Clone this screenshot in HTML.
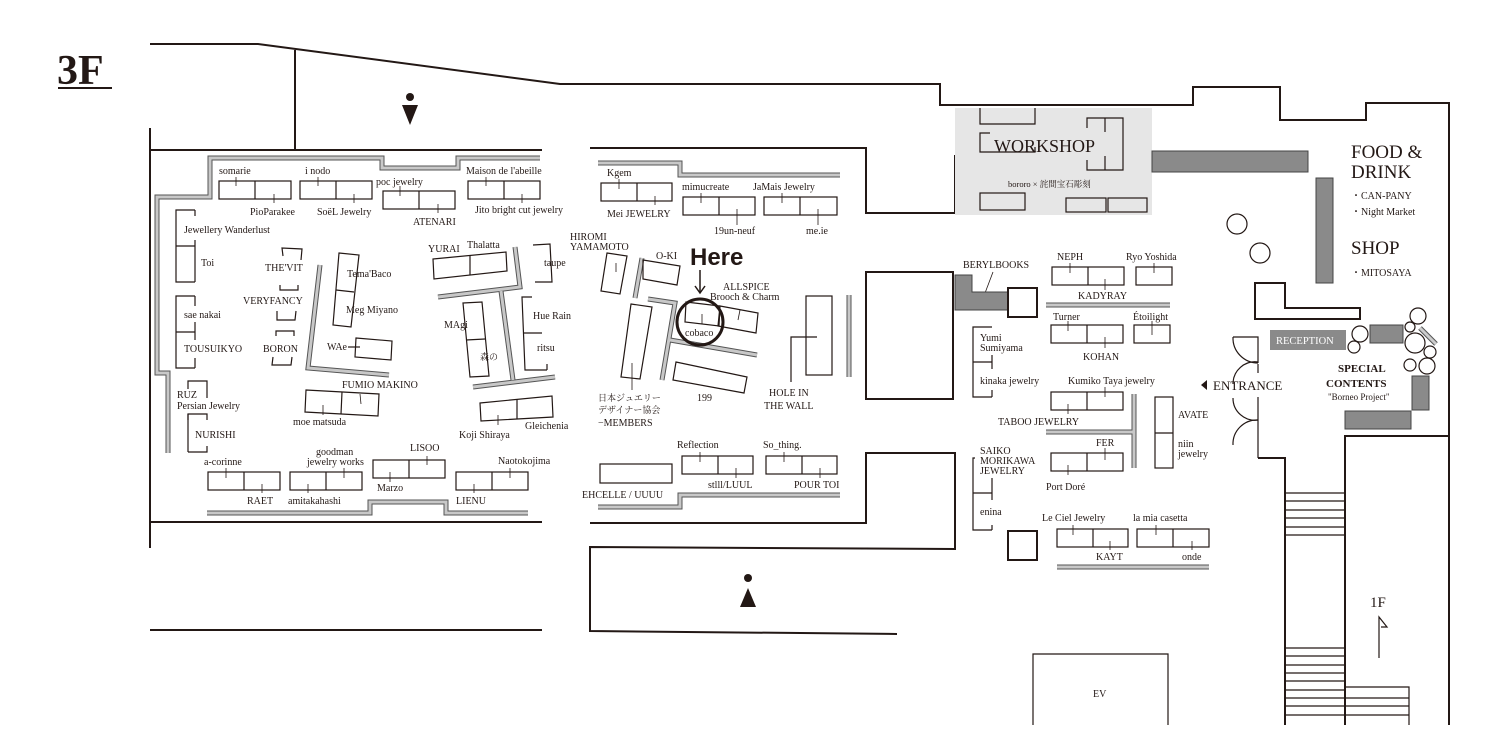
<!DOCTYPE html>
<html><head><meta charset="utf-8"><style>
html,body{margin:0;padding:0;background:#fff;}
svg{display:block;}
text{font-family:"Liberation Serif","Noto Serif CJK SC",serif;fill:#231815;font-size:10px;}
.s{fill:none;stroke:#231815;stroke-width:1.2;}
.w{fill:none;stroke:#231815;stroke-width:2;}
.t{stroke:#231815;stroke-width:0.8;}
.g1{fill:none;stroke:#555;stroke-width:5;}
.g2{fill:none;stroke:#c8c8c8;stroke-width:3;}
.gb{fill:#8a8a8a;stroke:#444;stroke-width:1;}
</style></head><body>
<svg width="1500" height="752" viewBox="0 0 1500 752" xmlns="http://www.w3.org/2000/svg">
<!-- title -->
<text x="57" y="84" style="font-size:42px;font-weight:bold">3F</text>
<line x1="58" y1="88" x2="112" y2="88" stroke="#231815" stroke-width="2"/>

<!-- outer walls -->
<polyline class="w" points="150,44 258,44 560,84 940,84 940,105 1193,105 1193,87 1280,87 1280,120 1366,120 1366,103 1449,103 1449,725"/>
<line class="w" x1="295" y1="50" x2="295" y2="150"/>
<polyline class="w" points="150,128 150,548"/>
<line class="w" x1="150" y1="150" x2="542" y2="150"/>
<line class="w" x1="150" y1="522" x2="542" y2="522"/>
<line class="w" x1="150" y1="630" x2="542" y2="630"/>
<polyline class="w" points="590,148 866,148 866,213 955,213 955,155"/>
<polyline class="w" points="590,523 866,523 866,453 955,453 955,549 590,547 590,631 897,634"/>
<rect class="w" x="866" y="272" width="87" height="127"/>
<rect class="w" x="955" y="272" width="0" height="0"/>
<!-- workshop -->
<rect x="955" y="108" width="197" height="107" fill="#e6e6e6"/>
<polyline class="s" points="980,108 980,124 1035,124 1035,108"/>
<polyline class="s" points="990,133 980,133 980,152 1035,152 1035,147"/>
<polyline class="s" points="1087,128 1087,118 1123,118 1123,170 1087,170 1087,160"/>
<line class="s" x1="1105" y1="118" x2="1105" y2="132"/><line class="s" x1="1105" y1="156" x2="1105" y2="170"/>
<text x="994" y="152" style="font-size:18px">WORKSHOP</text>
<text x="1008" y="187" style="font-size:8.5px">bororo × 詫間宝石彫刻</text>
<rect class="s" x="980" y="193" width="45" height="17"/>
<rect class="s" x="1066" y="198" width="40" height="14"/>
<rect class="s" x="1108" y="198" width="39" height="14"/>
<rect class="gb" x="1152" y="151" width="156" height="21"/>
<rect class="gb" x="1316" y="178" width="17" height="105"/>

<!-- restroom icons -->
<circle cx="410" cy="97" r="4" fill="#231815"/><polygon points="402,105 418,105 410,125" fill="#231815"/>
<circle cx="748" cy="578" r="4" fill="#231815"/><polygon points="740,607 756,607 748,588" fill="#231815"/>

<!-- left section gray walls -->
<g>
<polyline class="g1" points="168,453 168,373 157,373 157,197 210,197 210,158 382,158 382,168 458,168 458,158 540,158"/>
<polyline class="g1" points="207,513 370,513 370,502 446,502 446,513 528,513"/>
<polyline class="g1" points="320,265 308,368 389,375"/>
<polyline class="g1" points="515,247 520,287 438,297"/>
<polyline class="g1" points="501,291 513,380"/><polyline class="g1" points="473,387 555,377"/>
<polyline class="g1" points="598,163 680,163 680,175 840,175"/>
<polyline class="g1" points="598,507 680,507 680,495 840,495"/>
<polyline class="g1" points="642,258 635,298"/>
<polyline class="g1" points="648,299 675,303 662,380"/>
<polyline class="g1" points="670,340 757,355"/>
<line class="g1" x1="849" y1="295" x2="849" y2="377"/>
<line class="g1" x1="1046" y1="305" x2="1170" y2="305"/>
<polyline class="g1" points="1046,432 1134,432"/><line class="g1" x1="1134" y1="394" x2="1134" y2="468"/>
<line class="g1" x1="1057" y1="567" x2="1209" y2="567"/>
</g>
<g>
<polyline class="g2" points="168,453 168,373 157,373 157,197 210,197 210,158 382,158 382,168 458,168 458,158 540,158"/>
<polyline class="g2" points="207,513 370,513 370,502 446,502 446,513 528,513"/>
<polyline class="g2" points="320,265 308,368 389,375"/>
<polyline class="g2" points="515,247 520,287 438,297"/>
<polyline class="g2" points="501,291 513,380"/><polyline class="g2" points="473,387 555,377"/>
<polyline class="g2" points="598,163 680,163 680,175 840,175"/>
<polyline class="g2" points="598,507 680,507 680,495 840,495"/>
<polyline class="g2" points="642,258 635,298"/>
<polyline class="g2" points="648,299 675,303 662,380"/>
<polyline class="g2" points="670,340 757,355"/>
<line class="g2" x1="849" y1="295" x2="849" y2="377"/>
<line class="g2" x1="1046" y1="305" x2="1170" y2="305"/>
<polyline class="g2" points="1046,432 1134,432"/><line class="g2" x1="1134" y1="394" x2="1134" y2="468"/>
<line class="g2" x1="1057" y1="567" x2="1209" y2="567"/>
</g>

<!-- left section stalls -->
<g class="s">
<rect x="219" y="181" width="72" height="18"/><line x1="255" y1="181" x2="255" y2="199"/>
<rect x="300" y="181" width="72" height="18"/><line x1="336" y1="181" x2="336" y2="199"/>
<rect x="383" y="191" width="72" height="18"/><line x1="419" y1="191" x2="419" y2="209"/>
<rect x="468" y="181" width="72" height="18"/><line x1="504" y1="181" x2="504" y2="199"/>
<polyline points="195,210 176,210 176,282 195,282"/><line x1="176" y1="246" x2="195" y2="246"/><line x1="195" y1="210" x2="195" y2="216"/><line x1="195" y1="240" x2="195" y2="282"/>
<polyline points="195,296 176,296 176,368 195,368"/><line x1="176" y1="332" x2="195" y2="332"/><line x1="195" y1="296" x2="195" y2="306"/><line x1="195" y1="322" x2="195" y2="340"/><line x1="195" y1="358" x2="195" y2="368"/>
<polyline points="188,389 188,381 207,381 207,398"/>
<polyline points="188,420 188,414 207,414 207,420"/><line x1="188" y1="414" x2="188" y2="452"/><polyline points="188,452 207,452 207,446"/>
<polyline points="283,256 282,248 302,249 301,260"/><polyline points="280,285 280,290 298,290 298,285"/>
<polyline points="277,311 277,320 295,320 296,311"/><polyline points="276,336 276,331 294,331 294,336"/><polyline points="273,357 272,365 291,365 292,357"/>
<polygon points="339,253 359,255 351,327 333,325"/><line x1="336" y1="290" x2="354" y2="292"/>
<polygon points="356,338 392,341 391,360 355,357"/><line x1="348" y1="347" x2="360" y2="347"/>
<polygon points="306,390 379,394 378,416 305,412"/><line x1="342" y1="392" x2="341" y2="414"/>
<polygon points="433,259 506,252 507,271 434,279"/><line x1="470" y1="255" x2="470" y2="275"/>
<polyline points="533,245 550,244 552,282 535,282"/>
<polygon points="463,303 482,302 489,376 470,377"/><line x1="466" y1="340" x2="485" y2="339"/>
<polyline points="532,297 522,297 525,370 547,370"/><line x1="523" y1="333" x2="542" y2="333"/><line x1="547" y1="364" x2="547" y2="370"/>
<polygon points="480,403 552,396 553,417 481,421"/><line x1="517" y1="399" x2="517" y2="419"/>
<rect x="208" y="472" width="72" height="18"/><line x1="244" y1="472" x2="244" y2="490"/>
<rect x="290" y="472" width="72" height="18"/><line x1="326" y1="472" x2="326" y2="490"/>
<rect x="373" y="460" width="72" height="18"/><line x1="409" y1="460" x2="409" y2="478"/>
<rect x="456" y="472" width="72" height="18"/><line x1="492" y1="472" x2="492" y2="490"/>
<!-- middle -->
<rect x="601" y="183" width="71" height="18"/><line x1="637" y1="183" x2="637" y2="201"/>
<rect x="683" y="197" width="72" height="18"/><line x1="719" y1="197" x2="719" y2="215"/>
<rect x="764" y="197" width="73" height="18"/><line x1="800" y1="197" x2="800" y2="215"/>
<polygon points="607,253 627,256 620,294 601,291"/>
<polygon points="643,260 680,266 677,285 643,279"/>
<polygon points="686,302 720,306 719,326 685,322"/>
<polygon points="720,306 758,313 756,333 718,326"/>
<polygon points="631,304 652,307 640,379 621,377"/>
<polygon points="676,362 747,377 744,393 673,380"/>
<rect x="806" y="296" width="26" height="79"/>
<polyline points="791,382 791,337 817,337"/>
<rect x="600" y="464" width="72" height="19"/>
<rect x="682" y="456" width="71" height="18"/><line x1="718" y1="456" x2="718" y2="474"/>
<rect x="766" y="456" width="71" height="18"/><line x1="802" y1="456" x2="802" y2="474"/>
<!-- right -->
<rect x="1052" y="267" width="72" height="18"/><line x1="1088" y1="267" x2="1088" y2="285"/>
<rect x="1136" y="267" width="36" height="18"/>
<rect x="1051" y="325" width="72" height="18"/><line x1="1087" y1="325" x2="1087" y2="343"/>
<rect x="1134" y="325" width="36" height="18"/>
<polyline points="992,327 973,327 973,397 992,397"/><line x1="973" y1="362" x2="992" y2="362"/><line x1="992" y1="355" x2="992" y2="369"/><line x1="992" y1="390" x2="992" y2="397"/>
<rect x="1051" y="392" width="72" height="18"/><line x1="1087" y1="392" x2="1087" y2="410"/>
<rect x="1051" y="453" width="72" height="18"/><line x1="1087" y1="453" x2="1087" y2="471"/>
<rect x="1155" y="397" width="18" height="71"/><line x1="1155" y1="433" x2="1173" y2="433"/>
<polyline points="975,458 973,458 973,530 992,530"/><line x1="973" y1="493" x2="992" y2="493"/><line x1="992" y1="478" x2="992" y2="500"/><line x1="992" y1="525" x2="992" y2="530"/>
<rect x="1057" y="529" width="71" height="18"/><line x1="1093" y1="529" x2="1093" y2="547"/>
<rect x="1137" y="529" width="72" height="18"/><line x1="1173" y1="529" x2="1173" y2="547"/>
</g>
<g class="t">
<line x1="236" y1="177" x2="236" y2="186"/><line x1="274" y1="194" x2="274" y2="203"/>
<line x1="318" y1="177" x2="318" y2="186"/><line x1="354" y1="194" x2="354" y2="203"/>
<line x1="400" y1="186" x2="400" y2="196"/><line x1="438" y1="204" x2="438" y2="213"/>
<line x1="486" y1="177" x2="486" y2="186"/><line x1="522" y1="194" x2="522" y2="203"/>
<line x1="226" y1="468" x2="226" y2="478"/><line x1="262" y1="484" x2="262" y2="493"/>
<line x1="308" y1="484" x2="308" y2="493"/><line x1="344" y1="468" x2="344" y2="478"/>
<line x1="390" y1="472" x2="390" y2="482"/><line x1="427" y1="456" x2="427" y2="465"/>
<line x1="474" y1="484" x2="474" y2="493"/><line x1="510" y1="468" x2="510" y2="478"/>
<line x1="360" y1="394" x2="361" y2="404"/><line x1="323" y1="405" x2="323" y2="415"/>
<line x1="498" y1="415" x2="498" y2="425"/>
<line x1="619" y1="179" x2="619" y2="189"/><line x1="655" y1="196" x2="655" y2="205"/>
<line x1="701" y1="193" x2="701" y2="203"/><line x1="737" y1="209" x2="737" y2="225"/>
<line x1="782" y1="193" x2="782" y2="203"/><line x1="818" y1="209" x2="818" y2="225"/>
<line x1="616" y1="263" x2="616" y2="272"/><line x1="702" y1="314" x2="702" y2="324"/><line x1="740" y1="310" x2="738" y2="320"/>
<line x1="632" y1="363" x2="632" y2="390"/>
<line x1="700" y1="452" x2="700" y2="462"/><line x1="736" y1="468" x2="736" y2="478"/>
<line x1="784" y1="452" x2="784" y2="462"/><line x1="820" y1="468" x2="820" y2="478"/>
<line x1="1070" y1="263" x2="1070" y2="273"/><line x1="1105" y1="279" x2="1105" y2="290"/><line x1="1154" y1="263" x2="1154" y2="273"/>
<line x1="1068" y1="321" x2="1068" y2="331"/><line x1="1105" y1="337" x2="1105" y2="348"/><line x1="1152" y1="321" x2="1152" y2="335"/>
<line x1="1105" y1="387" x2="1105" y2="397"/><line x1="1068" y1="404" x2="1068" y2="414"/>
<line x1="1105" y1="448" x2="1105" y2="460"/><line x1="1068" y1="465" x2="1068" y2="475"/>
<line x1="1073" y1="525" x2="1073" y2="535"/><line x1="1110" y1="541" x2="1110" y2="550"/>
<line x1="1156" y1="525" x2="1156" y2="535"/><line x1="1192" y1="541" x2="1192" y2="550"/>
<line x1="993" y1="272" x2="982" y2="301"/>
</g>

<!-- Here -->
<circle cx="700" cy="322" r="23" fill="none" stroke="#231815" stroke-width="3"/>
<text x="690" y="265" style="font-family:'Liberation Sans',sans-serif;font-size:24px;font-weight:bold">Here</text>
<line x1="700" y1="270" x2="700" y2="292" stroke="#231815" stroke-width="1.5"/>
<polyline points="695,286 700,293 705,286" fill="none" stroke="#231815" stroke-width="1.5"/>

<!-- right area -->
<polygon class="gb" points="955,275 972,275 972,292 1008,292 1008,310 955,310"/>
<rect class="w" x="1008" y="288" width="29" height="29"/>
<rect class="w" x="1008" y="531" width="29" height="29"/>
<polygon class="w" points="1255,283 1285,283 1285,308 1360,308 1360,319 1255,319" fill="none"/>
<circle class="s" cx="1237" cy="224" r="10"/><circle class="s" cx="1260" cy="253" r="10"/>
<rect x="1270" y="330" width="76" height="20" fill="#8a8a8a"/>
<text x="1276" y="344" style="fill:#fff;font-size:10.5px">RECEPTION</text>
<rect class="gb" x="1370" y="325" width="33" height="18"/>
<rect class="gb" x="1412" y="376" width="17" height="34"/>
<rect class="gb" x="1345" y="411" width="66" height="18"/>
<line x1="1420" y1="328" x2="1436" y2="344" stroke="#555" stroke-width="5"/><line x1="1420" y1="328" x2="1436" y2="344" stroke="#ccc" stroke-width="3"/>
<g class="s"><circle cx="1360" cy="334" r="8"/><circle cx="1354" cy="347" r="6"/><circle cx="1418" cy="316" r="8"/><circle cx="1410" cy="327" r="5"/><circle cx="1415" cy="343" r="10"/><circle cx="1430" cy="352" r="6"/><circle cx="1410" cy="365" r="6"/><circle cx="1427" cy="366" r="8"/></g>
<!-- entrance -->
<g class="s">
<polyline points="1233,337 1258,337 1258,363"/>
<line x1="1258" y1="364" x2="1258" y2="373"/>
<path d="M1233,337 A25,25 0 0 0 1258,363"/>
<path d="M1233,384 A22,22 0 0 1 1258,362" />
<line x1="1258" y1="397" x2="1258" y2="458"/>
<path d="M1233,398 A22,22 0 0 0 1258,420"/>
<path d="M1233,445 A24,24 0 0 1 1258,420"/>
</g>
<polyline class="w" points="1258,458 1285,458 1285,725"/>
<polyline class="w" points="1345,725 1345,436 1449,436"/>
<g class="s">
<line x1="1285" y1="493" x2="1345" y2="493"/><line x1="1285" y1="501" x2="1345" y2="501"/><line x1="1285" y1="510" x2="1345" y2="510"/><line x1="1285" y1="518" x2="1345" y2="518"/><line x1="1285" y1="527" x2="1345" y2="527"/><line x1="1285" y1="535" x2="1345" y2="535"/>
<line x1="1285" y1="648" x2="1345" y2="648"/><line x1="1285" y1="656" x2="1345" y2="656"/><line x1="1285" y1="665" x2="1345" y2="665"/><line x1="1285" y1="673" x2="1345" y2="673"/><line x1="1285" y1="681" x2="1345" y2="681"/><line x1="1285" y1="690" x2="1345" y2="690"/><line x1="1285" y1="698" x2="1345" y2="698"/><line x1="1285" y1="706" x2="1345" y2="706"/><line x1="1285" y1="715" x2="1345" y2="715"/>
<polyline points="1345,687 1409,687 1409,725"/>
<line x1="1345" y1="698" x2="1409" y2="698"/><line x1="1345" y1="706" x2="1409" y2="706"/><line x1="1345" y1="715" x2="1409" y2="715"/>
<polyline points="1033,725 1033,654 1168,654 1168,725"/>
<polyline points="1379,658 1379,617 1387,627 1381,627"/>
</g>

<!-- labels -->
<text x="219" y="174">somarie</text><text x="250" y="215">PioParakee</text>
<text x="305" y="174">i nodo</text><text x="317" y="215">SoëL Jewelry</text>
<text x="376" y="185">poc jewelry</text><text x="413" y="225">ATENARI</text>
<text x="466" y="174">Maison de l'abeille</text><text x="475" y="213">Jito bright cut jewelry</text>
<text x="184" y="233">Jewellery Wanderlust</text><text x="201" y="266">Toi</text>
<text x="184" y="318">sae nakai</text><text x="184" y="352">TOUSUIKYO</text>
<text x="177" y="398">RUZ</text><text x="177" y="409">Persian Jewelry</text>
<text x="195" y="438">NURISHI</text>
<text x="265" y="271">THE'VIT</text><text x="243" y="304">VERYFANCY</text><text x="263" y="352">BORON</text>
<text x="347" y="277">Tema'Baco</text><text x="346" y="313">Meg Miyano</text>
<text x="327" y="350">WAe</text>
<text x="342" y="388">FUMIO MAKINO</text><text x="293" y="425">moe matsuda</text>
<text x="428" y="252">YURAI</text><text x="467" y="248">Thalatta</text>
<text x="544" y="266">taupe</text>
<text x="444" y="328">MAgi</text><text x="480" y="360" style="font-size:9px">森の</text>
<text x="533" y="319">Hue Rain</text><text x="537" y="351">ritsu</text>
<text x="459" y="438">Koji Shiraya</text><text x="525" y="429">Gleichenia</text>
<text x="204" y="465">a-corinne</text><text x="247" y="504">RAET</text>
<text x="316" y="455">goodman</text><text x="307" y="465">jewelry works</text><text x="288" y="504">amitakahashi</text>
<text x="410" y="451">LISOO</text><text x="377" y="491">Marzo</text>
<text x="498" y="464">Naotokojima</text><text x="456" y="504">LIENU</text>

<text x="607" y="176">Kgem</text><text x="607" y="217">Mei JEWELRY</text>
<text x="682" y="190">mimucreate</text><text x="714" y="234">19un-neuf</text>
<text x="753" y="190">JaMais Jewelry</text><text x="806" y="234">me.ie</text>
<text x="570" y="240">HIROMI</text><text x="570" y="250">YAMAMOTO</text>
<text x="656" y="259">O-KI</text>
<text x="723" y="290">ALLSPICE</text><text x="710" y="300">Brooch &amp; Charm</text>
<text x="685" y="336">cobaco</text>
<text x="697" y="401">199</text>
<text x="598" y="401" style="font-size:9px">日本ジュエリー</text><text x="598" y="413" style="font-size:9px">デザイナー協会</text><text x="598" y="426">−MEMBERS</text>
<text x="769" y="396">HOLE IN</text><text x="764" y="409">THE WALL</text>
<text x="582" y="498">EHCELLE / UUUU</text>
<text x="677" y="448">Reflection</text><text x="708" y="488">stlll/LUUL</text>
<text x="763" y="448">So_thing.</text><text x="794" y="488">POUR TOI</text>

<text x="963" y="268">BERYLBOOKS</text>
<text x="1057" y="260">NEPH</text><text x="1126" y="260">Ryo Yoshida</text><text x="1078" y="299">KADYRAY</text>
<text x="1053" y="320">Turner</text><text x="1133" y="320">Étoilight</text><text x="1083" y="360">KOHAN</text>
<text x="980" y="341">Yumi</text><text x="980" y="351">Sumiyama</text><text x="980" y="384">kinaka jewelry</text>
<text x="1068" y="384">Kumiko Taya jewelry</text><text x="998" y="425">TABOO JEWELRY</text>
<text x="1096" y="446">FER</text><text x="1046" y="490">Port Doré</text>
<text x="1178" y="418">AVATE</text><text x="1178" y="447">niin</text><text x="1178" y="457">jewelry</text>
<text x="980" y="454">SAIKO</text><text x="980" y="464">MORIKAWA</text><text x="980" y="474">JEWELRY</text>
<text x="980" y="515">enina</text>
<text x="1042" y="521">Le Ciel Jewelry</text><text x="1133" y="521">la mia casetta</text>
<text x="1096" y="560">KAYT</text><text x="1182" y="560">onde</text>

<text x="1351" y="158" style="font-size:19px">FOOD &amp;</text>
<text x="1351" y="178" style="font-size:19px">DRINK</text>
<text x="1351" y="199">・CAN-PANY</text>
<text x="1351" y="215">・Night Market</text>
<text x="1351" y="254" style="font-size:19px">SHOP</text>
<text x="1351" y="276">・MITOSAYA</text>
<text x="1338" y="372" style="font-size:11px;font-weight:bold">SPECIAL</text>
<text x="1326" y="387" style="font-size:11px;font-weight:bold">CONTENTS</text>
<text x="1328" y="400" style="font-size:9px">"Borneo Project"</text>
<polygon points="1201,385 1207,380 1207,390" fill="#231815"/>
<text x="1213" y="390" style="font-size:13px">ENTRANCE</text>
<text x="1370" y="607" style="font-size:15px">1F</text>
<text x="1093" y="697">EV</text>
</svg>
</body></html>
